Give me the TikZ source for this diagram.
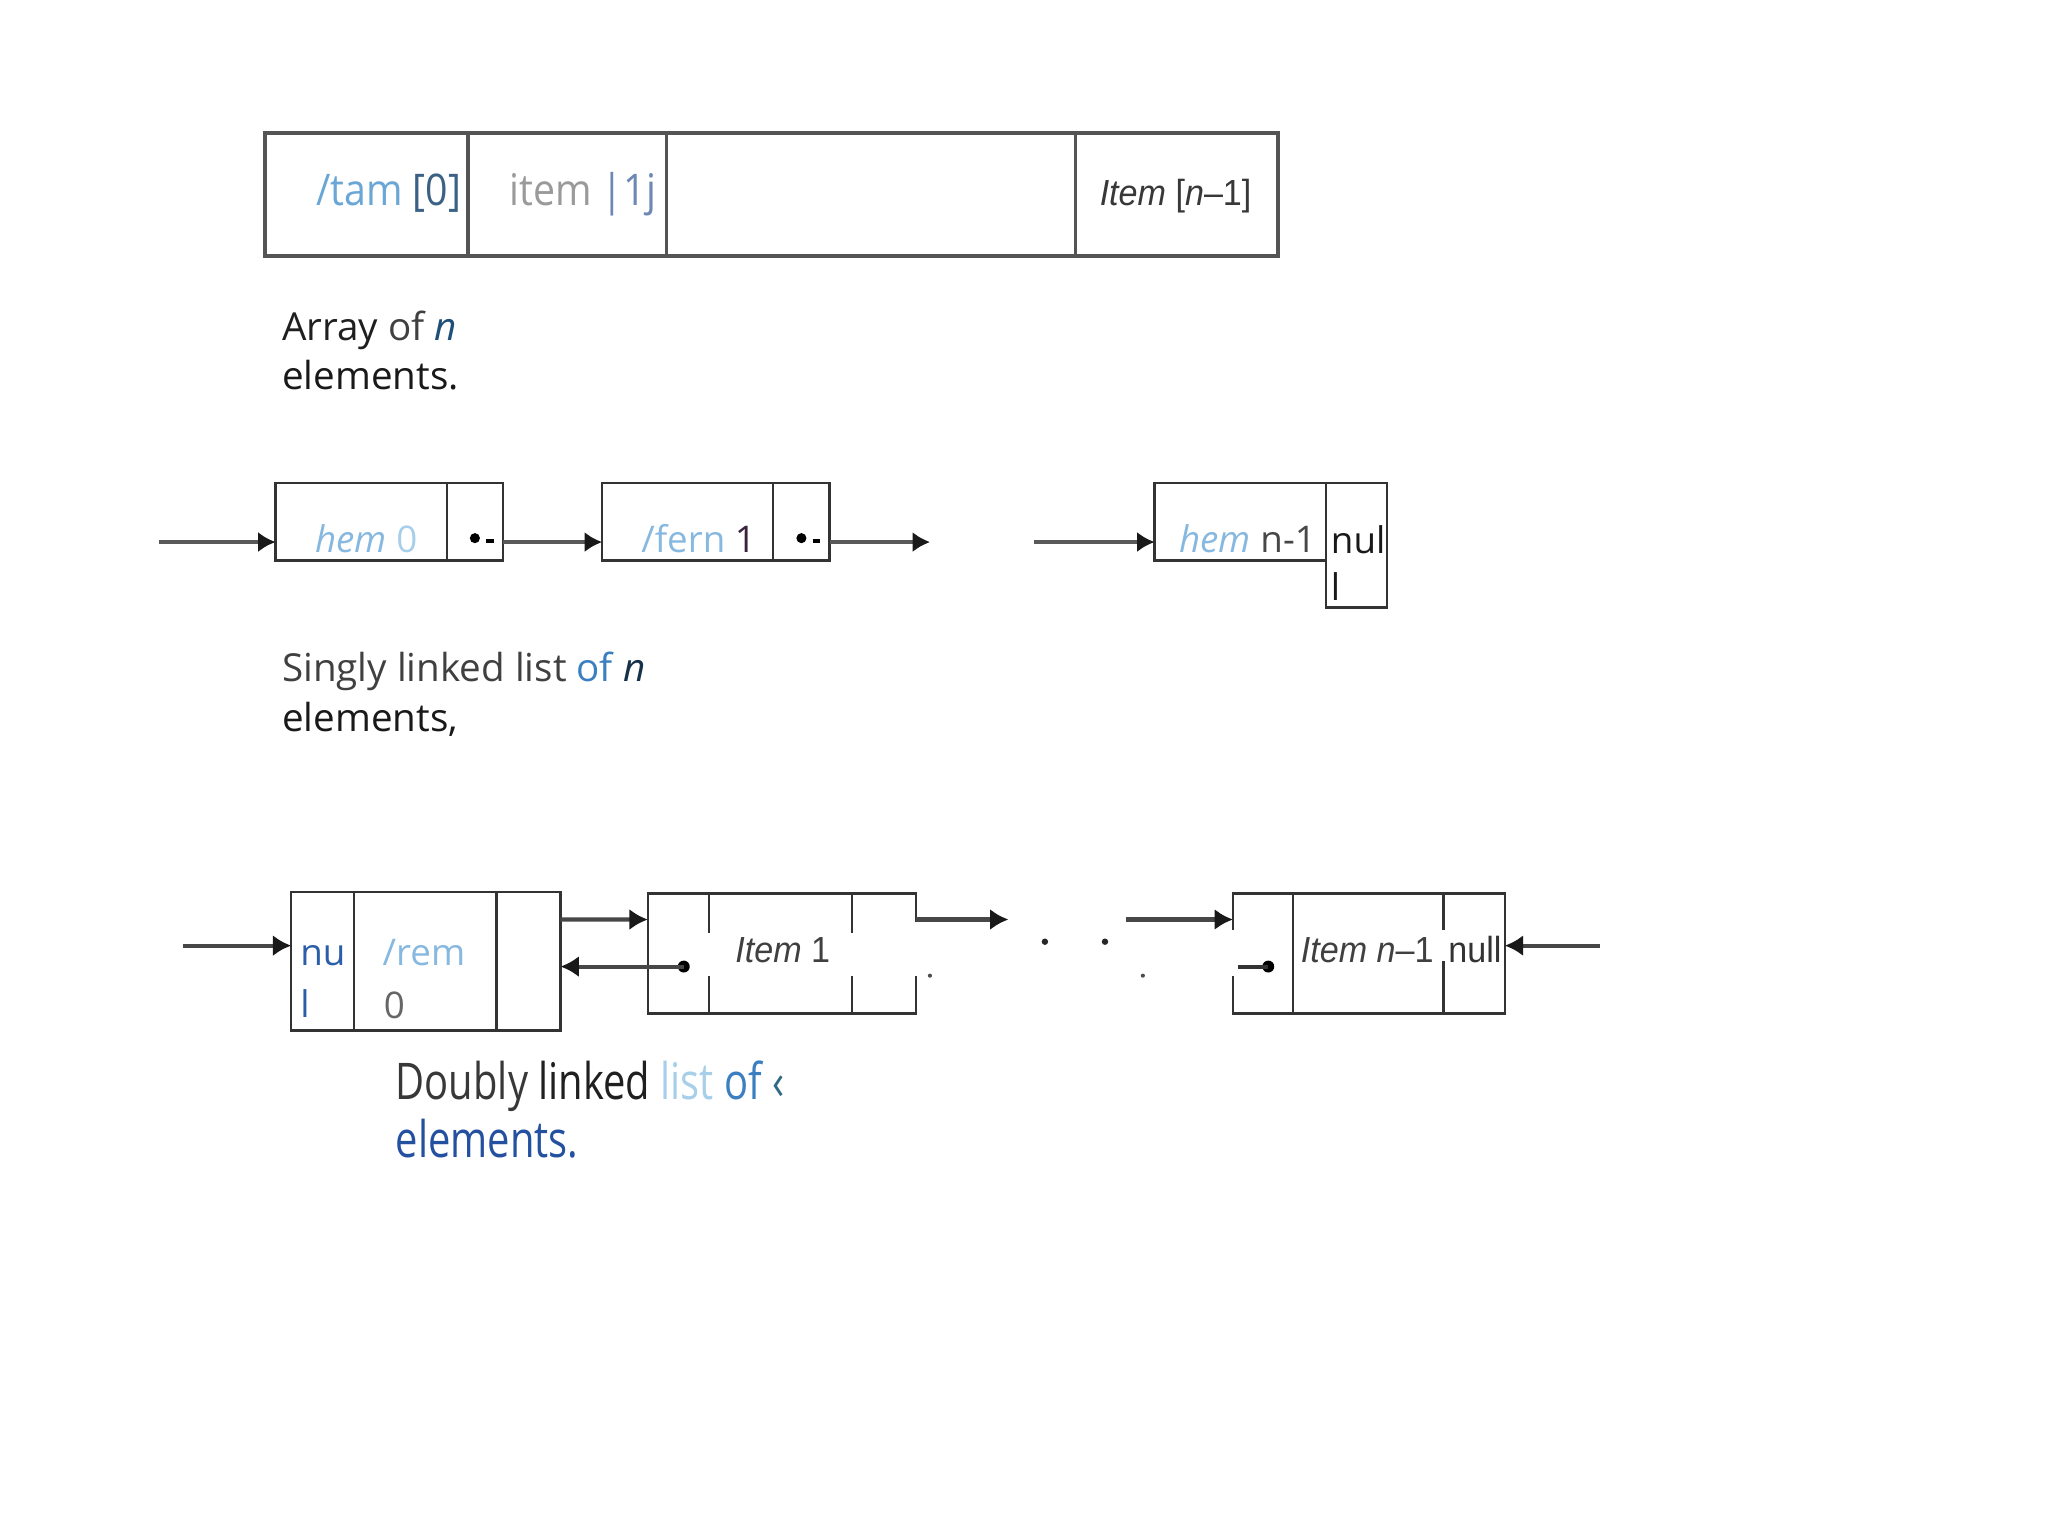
\documentclass[tikz,border=0pt]{standalone}
\usepackage{fontspec}
\setmainfont{Open Sans}
\newfontfamily\tombfont[FakeStretch=0.9]{Open Sans}
\newfontfamily\duplafont[FakeStretch=0.79]{Open Sans}
\newfontfamily\arialfont[FakeStretch=0.94]{Liberation Sans}
\usetikzlibrary{arrows.meta,positioning,calc}

\newcommand{\tombbetu}{\tombfont\fontsize{9.5pt}{11pt}\selectfont}
\newcommand{\listabetu}{\fontsize{8pt}{10pt}\selectfont}
\newcommand{\cimbetu}{\fontsize{8.4pt}{10.5pt}\selectfont}
\newcommand{\dcimbetu}{\duplafont\fontsize{11pt}{13pt}\selectfont}
\newcommand{\arialbetu}{\arialfont\fontsize{7.9pt}{9pt}\selectfont}

\definecolor{vilagoskek}{HTML}{6AA6D6}
\definecolor{sotetkek}{HTML}{3B6285}
\definecolor{szurke}{HTML}{9A9A9A}
\definecolor{kekszurke}{HTML}{6E88B3}
\definecolor{halvanykek}{HTML}{86B8E0}
\definecolor{jegkek}{HTML}{A8CFEA}
\definecolor{lila}{HTML}{3B2340}
\definecolor{kozepkek}{HTML}{3B7FC0}
\definecolor{navy}{HTML}{1F4E79}
\definecolor{ejkek}{HTML}{15324A}
\definecolor{nullkek}{HTML}{2A5EA8}
\definecolor{elemkek}{HTML}{2450A0}
\definecolor{petrol}{HTML}{2F6985}

\tikzset{
tombcella/.style={draw=black!67, line width=0.8pt, minimum height=0.94cm, inner sep=0pt, outer sep=0pt, anchor=north west},
listacella/.style={draw=black!80, line width=0.5pt, inner sep=0pt, outer sep=0pt, anchor=north west},
felirat/.style={anchor=base west, inner sep=0pt, outer sep=0pt},
nyil/.style={draw=black!65, line width=0.95pt, -{Latex[length=3.8pt,width=4.4pt,color=black!90]}},
dnyil/.style={draw=black!72, line width=0.9pt, -{Latex[length=4pt,width=4.6pt,color=black!90]}},
}

\begin{document}
\begin{tikzpicture}[x=0.01cm,y=-0.01cm]
\useasboundingbox (0,0) rectangle (1568,1176);

% Tomb cellai
\node[tombcella, minimum width=1.55cm] (t0) at (203,102) {};
\foreach \nn/\ww/\pp in {t1/1.52/t0,t2/3.13/t1,t3/1.55/t2}{
\node[tombcella, minimum width=\ww cm] (\nn) at (\pp.north east) {};
}

% Tomb feliratok
\node[felirat, font=\tombbetu] (t0szov) at (242,157.5) {\textcolor{vilagoskek}{/tam} \textcolor{sotetkek}{[0]}};
\node[felirat, font=\tombbetu] (t1szov) at (390,157.5) {\textcolor{szurke}{item} \textcolor{kekszurke}{|1j}};
\node[felirat, font=\arialbetu, text=black!78] (t3szov) at (842,157) {\textit{Item} [\textit{n}–1]};

\node[felirat, font=\cimbetu, text=black!88] (tcim1) at (216,261) {Array \textcolor{black!75}{of} \textcolor{navy}{\textit{n}}};
\node[felirat, font=\cimbetu, text=black!90] (tcim2) at (216,298) {elements.};

% Egyszeresen lancolt lista
\foreach \nn/\xx in {s0/211,s1/461}{
\node[listacella, minimum width=1.31cm, minimum height=0.59cm] (\nn) at (\xx,370) {};
\node[listacella, minimum width=0.43cm, minimum height=0.59cm] (\nn p) at (\nn.north east) {};
\fill ([yshift=-1.25mm]\nn p.center) circle (1.1pt);
\draw[line width=0.9pt] ([xshift=0.85mm,yshift=-1.45mm]\nn p.center) -- ++(6,0);
}
\node[listacella, minimum width=1.31cm, minimum height=0.59cm] (sn) at (884,370) {};
\node[listacella, minimum width=0.47cm, minimum height=0.95cm] (snull) at (sn.north east) {};

\node[felirat, font=\listabetu] (s0szov) at (241.5,423) {\textcolor{halvanykek}{\textit{hem}} \textcolor{jegkek}{0}};
\node[felirat, font=\listabetu] (s1szov) at (491,423) {\textcolor{halvanykek}{/fern} \textcolor{lila}{1}};
\node[felirat, font=\listabetu] (snszov) at (903,423) {\textcolor{halvanykek}{\textit{hem}} \textcolor{black!72}{n-1}};
\node[felirat, font=\listabetu, text=black!90] (snull1) at (1019,424) {nul};
\node[felirat, font=\listabetu, text=black!90] (snull2) at (1019,459.5) {l};

% Nyilak
\coordinate (sbe) at (122,415);
\draw[nyil] (sbe) -- (sbe -| s0.west);
\draw[nyil] ([yshift=-1.55mm]s0p.east) -- ([yshift=-1.55mm]s1.west);
\draw[nyil] ([yshift=-1.55mm]s1p.east) -- ++(77,0) coordinate (ski);
\coordinate (snbe) at (792,415);
\draw[nyil] (snbe) -- (snbe -| sn.west);

\node[felirat, font=\cimbetu, text=black!75] (scim1) at (216,522) {Singly linked list \textcolor{kozepkek}{of} \textcolor{ejkek}{\textit{n}}};
\node[felirat, font=\cimbetu, text=black!90] (scim2) at (216,560) {elements,};

% Ketszeresen lancolt lista
\node[listacella, minimum width=0.48cm, minimum height=1.06cm] (d0a) at (223,683) {};
\node[listacella, minimum width=1.09cm, minimum height=1.06cm] (d0b) at (d0a.north east) {};
\node[listacella, minimum width=0.49cm, minimum height=1.06cm] (d0c) at (d0b.north east) {};
\foreach \nn/\xx/\aw/\bw/\cw in {d1/496/0.47/1.09/0.49,dn/944/0.46/1.15/0.47}{
\node[listacella, minimum width=\aw cm, minimum height=0.92cm] (\nn a) at (\xx,684) {};
\node[listacella, minimum width=\bw cm, minimum height=0.92cm] (\nn b) at (\nn a.north east) {};
\node[listacella, minimum width=\cw cm, minimum height=0.92cm] (\nn c) at (\nn b.north east) {};
}

% Kitakart reszek
\fill[white] (538,714) rectangle (706,747);
\fill[white] (690,706) rectangle (706,714);
\fill[white] (940,712) rectangle (948,747);
\fill[white] (1101,712) rectangle (1109,736);

\node[felirat, font=\listabetu, text=nullkek] (d0null1) at (230,739) {nu};
\node[felirat, font=\listabetu, text=nullkek] (d0null2) at (230,779) {l};
\node[felirat, font=\listabetu, text=halvanykek] (d0szov1) at (293,739) {/rem};
\node[felirat, font=\listabetu, text=black!60] (d0szov2) at (294,780) {0};
\node[felirat, font=\arialbetu, text=black!75] (d1szov) at (563,737) {\textit{Item} 1};
\node[felirat, font=\arialbetu, text=black!75] (dnszov) at (996,737) {\textit{Item n}–1};
\node[felirat, font=\arialbetu, text=black!80] (dnnull) at (1109,737) {null};

% Nyilak
\coordinate (dbe) at (140,724);
\draw[dnyil] (dbe) -- (dbe -| d0a.west);
\draw[dnyil] ([yshift=3.2mm]d0c.east) -- ([yshift=2.6mm]d1a.west);
\coordinate (d1pont) at ([xshift=0.4mm,yshift=-1mm]d1a.center);
\fill (d1pont) circle (1.3pt);
\draw[dnyil] (d1pont) -- (d1pont -| d0c.east);
\draw[dnyil] ([yshift=2.6mm]d1c.east) -- ++(71,0) coordinate (d1ki);
\coordinate (dnbe) at (862,704);
\draw[dnyil] (dnbe) -- (dnbe -| dna.west);
\coordinate (dnpont) at ([xshift=0.4mm,yshift=-1mm]dna.center);
\fill (dnpont) circle (1.3pt);
\draw[black!80, line width=0.9pt] ([xshift=0.4mm]dnpont -| dna.west) -- (dnpont);
\coordinate (jobbbe) at (1225,724);
\draw[dnyil] (jobbbe) -- (jobbbe -| dnc.east);

% Pontok
\foreach \xx in {800,846}{
\fill[black!85] (\xx,721) circle (0.7pt);
}
\foreach \xx in {712,875}{
\fill[black!70] (\xx,747) circle (0.45pt);
}

\node[felirat, font=\dcimbetu, text=black!78] (dcim1) at (303,842) {Doubly \textcolor{black!88}{linked} \textcolor{jegkek}{list} \textcolor{kozepkek}{of} \textcolor{petrol}{‹}};
\node[felirat, font=\dcimbetu, text=elemkek] (dcim2) at (303,886) {elements.};

\end{tikzpicture}
\end{document}
